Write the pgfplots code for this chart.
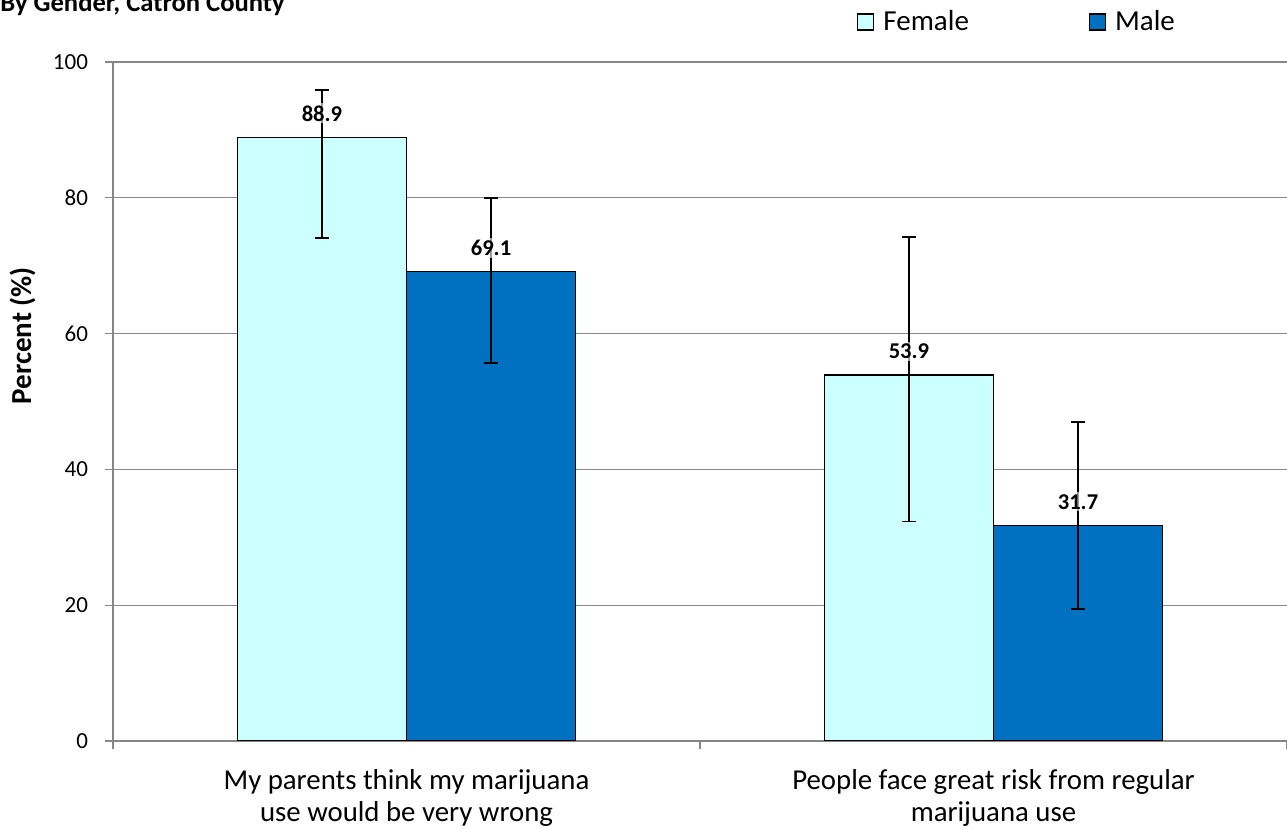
\documentclass[border=0pt]{standalone}
\usepackage{pgfplots}
\pgfplotsset{compat=1.18}
\usepackage{fontspec}
\setmainfont{Carlito}
\usetikzlibrary{calc}
\definecolor{fem}{RGB}{204,255,255}
\definecolor{mal}{RGB}{0,112,192}
\definecolor{gridc}{RGB}{134,134,134}
\pgfplotsset{sqlegend/.style={legend image code/.code={\draw[##1, draw=black, line width=0.6pt] (0pt,-4pt) rectangle (8pt,4pt);}},
 myerr/.style={error bars/y dir=both, error bars/y explicit,
 error bars/error bar style={black, line width=0.8pt},
 error bars/error mark options={rotate=90, mark size=3.5pt, black, line width=0.8pt}}}
\begin{document}
\begin{tikzpicture}
\begin{axis}[
 scale only axis, width=587pt, height=339.5pt,
 xmin=-0.5, xmax=1.5, ymin=0, ymax=100,
 ybar=0pt, bar width=0.288,
 /pgf/number format/assume math mode=true,
 axis x line*=bottom, axis y line*=left,
 axis line style={gridc, line width=0.6pt},
 ytick={0,20,...,100},
 ymajorgrids, grid style={gridc, line width=0.6pt},
 tick align=outside, major tick length=4pt, tick style={gridc, line width=0.6pt},
 xtick={-0.5,0.5,1.5}, xticklabels={},
 extra x ticks={0,1},
 extra x tick labels={{My parents think my marijuana\\use would be very wrong},{People face great risk from regular\\marijuana use}},
 extra x tick style={major tick length=0pt, grid=none},
 xticklabel style={align=center, font=\fontsize{14.4}{16}\selectfont, yshift=-10.5pt},
 yticklabel style={font=\fontsize{11.5}{14}\selectfont, xshift=-5pt},
 ylabel={\bfseries Percent (\%)},
 ylabel style={at={(axis description cs:-0.0771,0.597)}, anchor=center, font=\fontsize{14.5}{17}\selectfont},
 nodes near coords,
 every node near coord/.append style={font=\bfseries\fontsize{11.3}{13}\selectfont, fill=white, fill opacity=0.6, text opacity=1, inner sep=1pt, anchor=center, yshift=12pt, text=black},
 legend columns=2,
 legend style={draw=none, at={(axis description cs:0.6285,1.059)}, anchor=west, font=\fontsize{14.5}{17}\selectfont, /tikz/every odd column/.append style={column sep=2.5pt}, /tikz/every even column/.append style={column sep=58pt}},
]
\addplot[fill=fem, draw=black, line width=0.6pt, sqlegend, myerr] coordinates {
 (0,88.9) += (0,7.0) -= (0,14.8)
 (1,53.9) += (0,20.3) -= (0,21.6)
};
\addlegendentry{Female}
\addplot[fill=mal, draw=black, line width=0.6pt, sqlegend, myerr] coordinates {
 (0,69.1) += (0,10.9) -= (0,13.4)
 (1,31.7) += (0,15.3) -= (0,12.3)
};
\addlegendentry{Male}
\coordinate (ll) at (rel axis cs:0,0);
\coordinate (ur) at (rel axis cs:1,1);
\end{axis}
\node[anchor=base west, font=\bfseries\fontsize{13.3}{16}\selectfont, inner sep=0pt] at ($(ll|-ur)+(-56.5pt,25pt)$) {By Gender, Catron County};
\pgfresetboundingbox
\useasboundingbox ($(ll)+(-56.5pt,-44pt)$) rectangle ($(ur)+(0,31pt)$);
\end{tikzpicture}
\end{document}
